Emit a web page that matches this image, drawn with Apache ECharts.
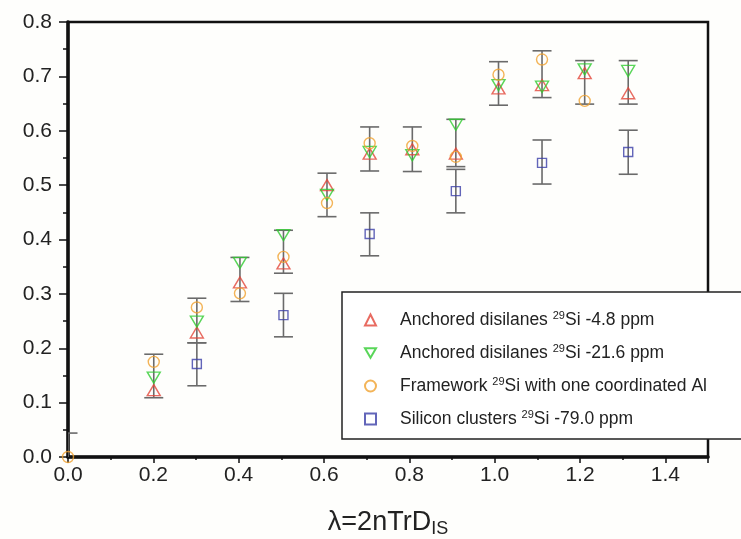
<!DOCTYPE html>
<html>
<head>
<meta charset="utf-8">
<script src="https://cdn.jsdelivr.net/npm/echarts@6/dist/echarts.min.js"></script>
<style>
  html, body { margin: 0; padding: 0; background: #fefefc; }
  #chart { width: 741px; height: 539px; }
</style>
</head>
<body>
<div id="chart"></div>
<script>
    // x positions of the measured groups (lambda)
    var groupX = [0, 0.201, 0.302, 0.403, 0.505, 0.607, 0.707, 0.807, 0.909, 1.009, 1.111, 1.211, 1.313];
    // null = no point at that lambda
    var anchored48 = [null, 0.123, 0.229, 0.321, 0.356, 0.500, 0.558, 0.566, 0.558, 0.678, 0.684, 0.706, 0.669];
    var anchored216 = [null, 0.146, 0.249, 0.357, 0.408, 0.482, 0.561, 0.555, 0.611, 0.684, 0.681, 0.713, 0.710];
    var framework = [0, 0.175, 0.275, 0.301, 0.368, 0.467, 0.577, 0.572, 0.552, 0.703, 0.731, 0.655, null];
    // error bars shared by the three series above
    var groupLow = [-0.044, 0.109, 0.210, 0.286, 0.338, 0.442, 0.526, 0.525, 0.534, 0.647, 0.661, 0.649, 0.649];
    var groupHigh = [0.044, 0.189, 0.292, 0.367, 0.417, 0.522, 0.607, 0.607, 0.621, 0.727, 0.747, 0.729, 0.729];

    var clusterX = [0.302, 0.505, 0.707, 0.909, 1.111, 1.313];
    var clusters = [0.171, 0.261, 0.410, 0.489, 0.541, 0.561];
    var clusterLow = [0.131, 0.221, 0.370, 0.449, 0.502, 0.520];
    var clusterHigh = [0.210, 0.301, 0.449, 0.529, 0.583, 0.601];

    var names = ['anchored48', 'anchored216', 'framework', 'clusters'];
    var legendText = {
        anchored48: '{g|}Anchored disilanes {sup|29}Si -4.8 ppm',
        anchored216: '{g|}Anchored disilanes {sup|29}Si -21.6 ppm',
        framework: '{g|}Framework {sup|29}Si with one coordinated Al',
        clusters: '{g|}Silicon clusters {sup|29}Si -79.0 ppm'
    };

    var downTriangle = 'path://M0,0L20,0L10,17Z';

    function pairs(xs, ys) {
        var out = [];
        for (var i = 0; i < xs.length; i++) {
            if (ys[i] !== null) out.push([xs[i], ys[i]]);
        }
        return out;
    }

    function bars(xs, lo, hi) {
        var out = [];
        for (var i = 0; i < xs.length; i++) out.push([xs[i], lo[i], hi[i]]);
        return out;
    }

    function renderErrorBar(params, api) {
        var x = api.value(0);
        var lo = api.coord([x, api.value(1)]);
        var hi = api.coord([x, api.value(2)]);
        var w = 9.5;
        var style = { stroke: '#6a6a6a', lineWidth: 1.6, fill: null };
        return {
            type: 'group',
            children: [
                { type: 'line', shape: { x1: lo[0], y1: lo[1], x2: hi[0], y2: hi[1] }, style: style },
                { type: 'line', shape: { x1: hi[0] - w, y1: hi[1], x2: hi[0] + w, y2: hi[1] }, style: style },
                { type: 'line', shape: { x1: lo[0] - w, y1: lo[1], x2: lo[0] + w, y2: lo[1] }, style: style }
            ]
        };
    }

    function marker(name, data, symbol, size, color) {
        return {
            name: name,
            type: 'scatter',
            data: data,
            symbol: symbol,
            symbolSize: size,
            z: 3,
            itemStyle: {
                color: 'rgba(255,255,255,0)',
                borderColor: color,
                borderWidth: 1.4
            }
        };
    }

    var chart = echarts.init(document.getElementById('chart'));
    chart.setOption({
        animation: false,
        textStyle: { fontFamily: 'Liberation Sans, Arial, sans-serif' },
        grid: {
            left: 68,
            right: 33,
            top: 22,
            bottom: 82,
            outerBoundsMode: 'none',
            containLabel: false,
            show: true,
            borderColor: '#111',
            borderWidth: 2.5,
            backgroundColor: 'transparent'
        },
        xAxis: {
            type: 'value',
            min: 0,
            max: 1.5,
            interval: 0.2,
            name: 'λ=2nTrD{sub|IS}',
            nameLocation: 'middle',
            nameGap: 51,
            nameTextStyle: {
                color: '#222',
                fontSize: 27,
                rich: {
                    sub: { fontSize: 18, color: '#222', padding: [12, 0, 0, 0] }
                }
            },
            axisLine: { onZero: false, lineStyle: { color: '#111', width: 3.5 } },
            axisTick: { show: true, length: 6, lineStyle: { color: '#111', width: 1.5 } },
            minorTick: { show: true, splitNumber: 2, length: 3, lineStyle: { color: '#111', width: 1.5 } },
            axisLabel: {
                color: '#222',
                fontSize: 21,
                margin: 8,
                formatter: function (v) {
                    return v > 1.45 ? '' : v.toFixed(1);
                }
            },
            splitLine: { show: false }
        },
        yAxis: {
            type: 'value',
            min: 0,
            max: 0.8,
            interval: 0.1,
            axisLine: { onZero: false, lineStyle: { color: '#111', width: 3.5 } },
            axisTick: { show: true, length: 9, lineStyle: { color: '#111', width: 1.5 } },
            minorTick: { show: true, splitNumber: 2, length: 5, lineStyle: { color: '#111', width: 1.5 } },
            axisLabel: {
                color: '#222',
                fontSize: 21,
                margin: 16,
                formatter: function (v) { return v.toFixed(1); }
            },
            splitLine: { show: false }
        },
        legend: {
            orient: 'vertical',
            left: 342,
            top: 292,
            data: names,
            itemWidth: 11,
            itemHeight: 11,
            itemGap: 13,
            padding: [18, 60, 10, 22],
            backgroundColor: '#fff',
            borderColor: '#222',
            borderWidth: 1.5,
            borderRadius: 0,
            formatter: function (name) { return legendText[name]; },
            textStyle: {
                color: '#222',
                fontSize: 17.5,
                lineHeight: 20,
                rich: {
                    g: { width: 19 },
                    sup: { fontSize: 11, color: '#222', padding: [0, 0, 9, 0] }
                }
            }
        },
        series: [
            {
                name: 'groupBars',
                type: 'custom',
                renderItem: renderErrorBar,
                data: bars(groupX, groupLow, groupHigh),
                encode: { x: 0, y: [1, 2] },
                clip: true,
                z: 2
            },
            {
                name: 'clusterBars',
                type: 'custom',
                renderItem: renderErrorBar,
                data: bars(clusterX, clusterLow, clusterHigh),
                encode: { x: 0, y: [1, 2] },
                clip: true,
                z: 2
            },
            marker('anchored48', pairs(groupX, anchored48), 'triangle', [13, 11], '#e2463a'),
            marker('anchored216', pairs(groupX, anchored216), downTriangle, [13, 11], '#2fcc2f'),
            marker('framework', pairs(groupX, framework), 'circle', 11, '#f0a12e'),
            marker('clusters', pairs(clusterX, clusters), 'rect', 9, '#3b3fa8')
        ]
    });
</script>
</body>
</html>
